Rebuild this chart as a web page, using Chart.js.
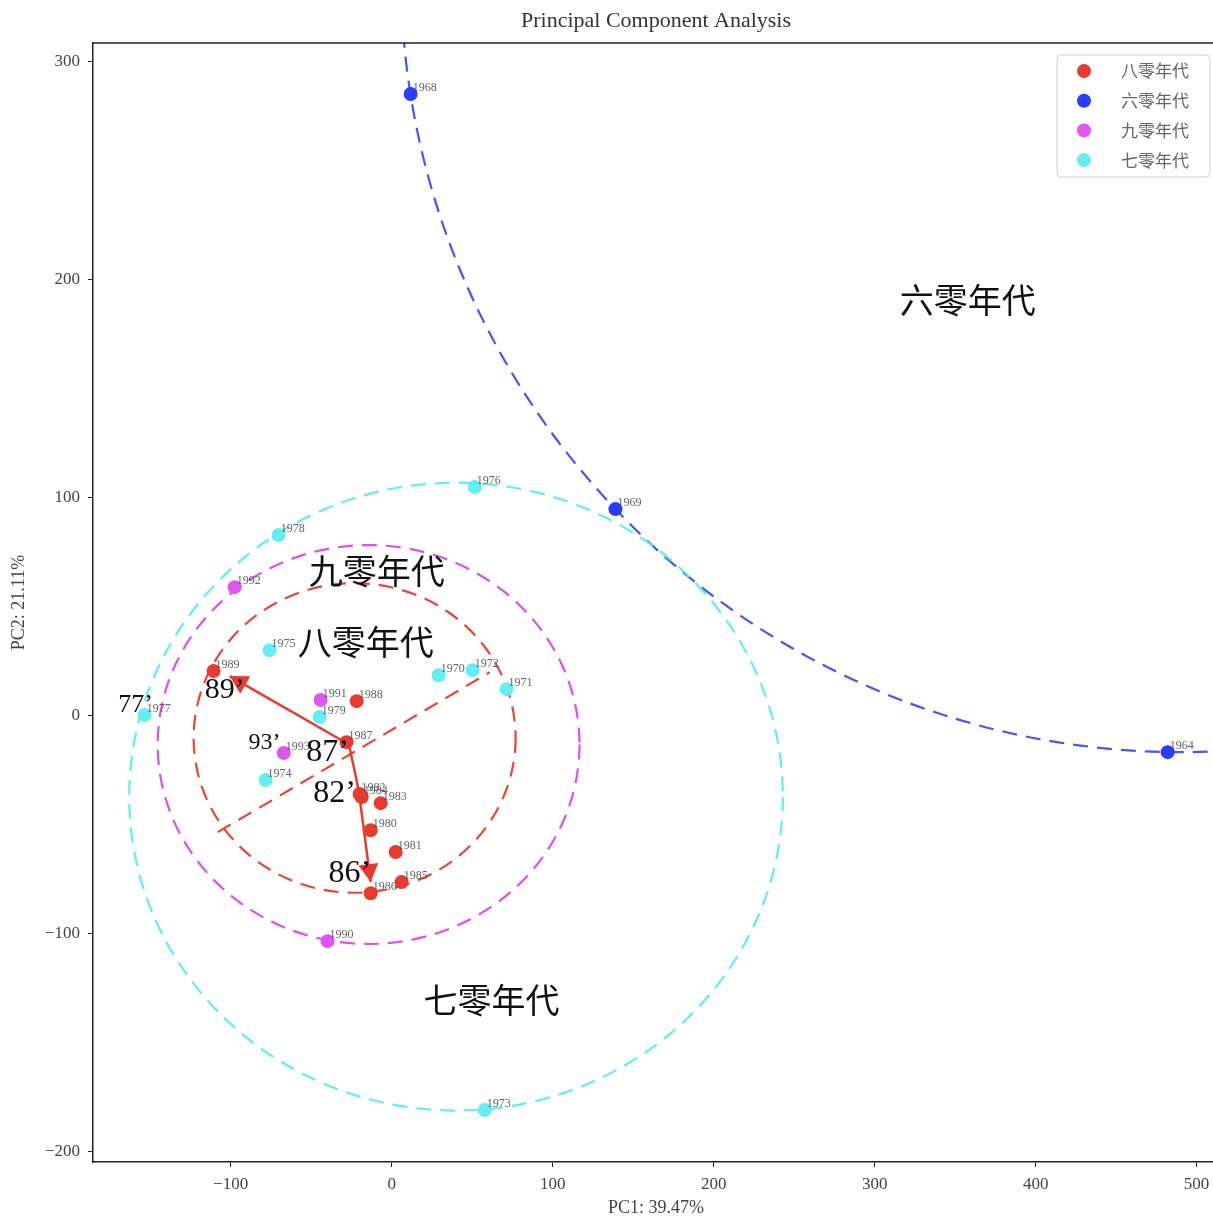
<!DOCTYPE html>
<html>
<head>
<meta charset="utf-8">
<title>Principal Component Analysis</title>
<script src="https://cdn.jsdelivr.net/npm/chart.js@4.4.0/dist/chart.umd.min.js"></script>
<style>
  html, body { margin: 0; padding: 0; background: #fff; overflow: hidden; }
  /* the original figure is cropped on the right, so the canvas runs a little past the window */
  #wrap { width: 1226px; height: 1219px; }
</style>
</head>
<body>
<div id="wrap"><canvas id="pca"></canvas></div>
<script>
// --- values ---
const groupNames = ['八零年代', '六零年代', '九零年代', '七零年代'];
const groupColors = ['#e83a2f', '#2a3dff', '#e055f0', '#62eff3'];

const years80 = [1980, 1981, 1982, 1983, 1984, 1985, 1986, 1987, 1988, 1989];
const pc1_80 = [-13, 2.5, -19.9, -6.8, -18.6, 6.2, -13, -28, -21.7, -110.6];
const pc2_80 = [-52.8, -62.8, -36.2, -40.4, -37.6, -76.6, -81.7, -12.4, 6.4, 20.2];

const years60 = [1964, 1968, 1969];
const pc1_60 = [482, 11.8, 139];
const pc2_60 = [-17, 284.9, 94.5];

const years90 = [1990, 1991, 1992, 1993];
const pc1_90 = [-39.8, -44.1, -97.5, -67];
const pc2_90 = [-103.7, 6.9, 58.7, -17.4];

const years70 = [1970, 1971, 1972, 1973, 1974, 1975, 1976, 1977, 1978, 1979];
const pc1_70 = [29.2, 71.4, 50.3, 57.8, -78.3, -75.8, 51.6, -153.4, -70.2, -44.7];
const pc2_70 = [18.3, 11.9, 20.6, -181.2, -29.8, 29.8, 104.6, 0, 82.6, -0.9];

// dashed rings around each decade (center / radii in data units)
const ringColors = ['#ee4434', '#4455ff', '#e04ef2', '#5eeff3'];
const ringCx = [-23, 490.7, -14.3, 40];
const ringCy = [-10.5, 341, -13.5, -37.4];
const ringRx = [100, 485, 131, 203];
const ringRy = [71, 358, 91.5, 144];

// red dashed diameter of the 80s ring
const diamX = [-108, 61];
const diamY = [-53.7, 19.7];

// red arrows (87 -> 89, 87 -> 82 -> 86)
const arrowX = [[-26.5, -100.6], [-26.5, -20.5, -13]];
const arrowY = [[-13.5, 17.9], [-13.5, -34.4, -76.6]];

// text annotations
const bigLabels = ['六零年代', '九零年代', '八零年代', '七零年代'];
const bigX = [357.8, -9.3, -16.1, 62.1];
const bigY = [190.4, 66, 33.5, -130.7];

const yearTags = ['89’', '77’', '93’', '87’', '82’', '86’'];
const tagX = [-103.7, -159, -78.9, -39.8, -35.4, -26];
const tagY = [11.5, 4.6, -12.8, -17, -36.2, -72.9];
const tagSize = [30, 26, 24, 32, 32, 32];

// axis ranges and ticks
const xMin = -185.5, xMax = 513.9;
const yMin = -205, yMax = 308.3;
const xTickValues = [-100, 0, 100, 200, 300, 400, 500];
const yTickValues = [-200, -100, 0, 100, 200, 300];

function pts(xs, ys) {
    return xs.map((x, i) => ({ x: x, y: ys[i] }));
}

const groupData = [
    { years: years80, data: pts(pc1_80, pc2_80) },
    { years: years60, data: pts(pc1_60, pc2_60) },
    { years: years90, data: pts(pc1_90, pc2_90) },
    { years: years70, data: pts(pc1_70, pc2_70) }
];

const datasets = [];
groupData.forEach((g, i) => {
    datasets.push({
        label: groupNames[i],
        data: g.data,
        years: g.years,
        backgroundColor: groupColors[i],
        borderWidth: 0,
        pointRadius: 7,
        pointHoverRadius: 7,
        order: 1
    });
});
datasets.push({
    label: 'diameter',
    data: pts(diamX, diamY),
    showLine: true,
    borderColor: '#ee4434',
    borderWidth: 2.2,
    borderDash: [15, 9],
    pointRadius: 0,
    order: 3
});
arrowX.forEach((xs, i) => {
    datasets.push({
        label: 'arrow',
        data: pts(xs, arrowY[i]),
        showLine: true,
        borderColor: '#e83a2f',
        borderWidth: 2.5,
        pointRadius: 0,
        arrow: true,
        order: 2
    });
});

const ringsPlugin = {
    id: 'rings',
    beforeDatasetsDraw(chart) {
        const { ctx, chartArea, scales: { x, y } } = chart;
        ctx.save();
        ctx.beginPath();
        ctx.rect(chartArea.left, chartArea.top, chartArea.right - chartArea.left, chartArea.bottom - chartArea.top);
        ctx.clip();
        ctx.lineWidth = 2.2;
        ctx.setLineDash([15, 9]);
        ringCx.forEach((cx, i) => {
            const px = x.getPixelForValue(cx);
            const py = y.getPixelForValue(ringCy[i]);
            const rx = Math.abs(x.getPixelForValue(cx + ringRx[i]) - px);
            const ry = Math.abs(y.getPixelForValue(ringCy[i] + ringRy[i]) - py);
            ctx.strokeStyle = ringColors[i];
            ctx.beginPath();
            ctx.ellipse(px, py, rx, ry, 0, 0, Math.PI * 2);
            ctx.stroke();
        });
        ctx.restore();
    }
};

const overlayPlugin = {
    id: 'overlay',
    afterDatasetsDraw(chart) {
        const { ctx, chartArea, scales: { x, y } } = chart;
        ctx.save();

        // arrow heads
        chart.data.datasets.forEach(ds => {
            if (!ds.arrow) return;
            const n = ds.data.length;
            const a = ds.data[n - 2], b = ds.data[n - 1];
            const ax = x.getPixelForValue(a.x), ay = y.getPixelForValue(a.y);
            const bx = x.getPixelForValue(b.x), by = y.getPixelForValue(b.y);
            const ang = Math.atan2(by - ay, bx - ax);
            const len = 18, half = 10;
            ctx.fillStyle = '#e83a2f';
            ctx.beginPath();
            ctx.moveTo(bx, by);
            ctx.lineTo(bx - len * Math.cos(ang) + half * Math.sin(ang), by - len * Math.sin(ang) - half * Math.cos(ang));
            ctx.lineTo(bx - len * Math.cos(ang) - half * Math.sin(ang), by - len * Math.sin(ang) + half * Math.cos(ang));
            ctx.closePath();
            ctx.fill();
        });

        // year labels next to each point
        ctx.font = '12px "Liberation Serif", serif';
        ctx.fillStyle = 'rgba(70,70,70,0.85)';
        ctx.textAlign = 'left';
        ctx.textBaseline = 'middle';
        chart.data.datasets.forEach(ds => {
            if (!ds.years) return;
            ds.data.forEach((p, i) => {
                ctx.fillText(String(ds.years[i]), x.getPixelForValue(p.x) + 2, y.getPixelForValue(p.y) - 6);
            });
        });

        // big decade names
        ctx.fillStyle = '#111';
        ctx.textAlign = 'center';
        ctx.font = '34px "Noto Sans CJK SC", sans-serif';
        bigLabels.forEach((t, i) => {
            ctx.fillText(t, x.getPixelForValue(bigX[i]), y.getPixelForValue(bigY[i]));
        });

        // short year tags
        yearTags.forEach((t, i) => {
            ctx.font = tagSize[i] + 'px "Liberation Serif", serif';
            ctx.fillText(t, x.getPixelForValue(tagX[i]), y.getPixelForValue(tagY[i]));
        });

        // frame top / right
        ctx.strokeStyle = '#222';
        ctx.lineWidth = 1.5;
        ctx.beginPath();
        ctx.moveTo(chartArea.left, chartArea.top);
        ctx.lineTo(chartArea.right, chartArea.top);
        ctx.lineTo(chartArea.right, chartArea.bottom);
        ctx.stroke();

        // legend box (top right, inside plot)
        const lx = 1057, ly = 55, lw = 153, lh = 122;
        ctx.fillStyle = 'rgba(255,255,255,0.85)';
        ctx.strokeStyle = '#d0d0d0';
        ctx.lineWidth = 1;
        ctx.beginPath();
        ctx.roundRect(lx, ly, lw, lh, 4);
        ctx.fill();
        ctx.stroke();
        ctx.textAlign = 'left';
        ctx.font = '17px "Noto Sans CJK SC", sans-serif';
        groupNames.forEach((name, i) => {
            const ry = 71 + i * 29.7;
            ctx.fillStyle = groupColors[i];
            ctx.beginPath();
            ctx.arc(1084, ry, 7, 0, Math.PI * 2);
            ctx.fill();
            ctx.fillStyle = '#666';
            ctx.fillText(name, 1121, ry);
        });

        ctx.restore();
    }
};

const minus = v => String(v).replace('-', '\u2212');

function axisTicks(values) {
    return scale => { scale.ticks = values.map(v => ({ value: v })); };
}

new Chart(document.getElementById('pca'), {
    type: 'scatter',
    data: { datasets: datasets },
    options: {
        responsive: true,
        maintainAspectRatio: false,
        animation: false,
        layout: { padding: 0 },
        plugins: {
            legend: { display: false },
            tooltip: { enabled: false },
            title: {
                display: true,
                fullSize: false,
                text: 'Principal Component Analysis',
                color: '#333',
                font: { family: 'Liberation Serif', size: 22, weight: 'normal' },
                padding: { top: 8, bottom: 8.6 }
            }
        },
        scales: {
            x: {
                type: 'linear',
                min: xMin,
                max: xMax,
                afterBuildTicks: axisTicks(xTickValues),
                ticks: {
                    color: '#444',
                    padding: 7,
                    maxRotation: 0,
                    font: { family: 'Liberation Serif', size: 17 },
                    callback: v => minus(v)
                },
                grid: { display: true, drawOnChartArea: false, drawTicks: true, tickLength: 5, color: '#222' },
                border: { display: true, color: '#222', width: 1.5 },
                title: {
                    display: true,
                    text: 'PC1: 39.47%',
                    color: '#444',
                    font: { family: 'Liberation Serif', size: 18 },
                    padding: { top: 2, bottom: 0 }
                },
                afterFit: s => { s.height = 57; }
            },
            y: {
                type: 'linear',
                min: yMin,
                max: yMax,
                afterBuildTicks: axisTicks(yTickValues),
                ticks: {
                    color: '#444',
                    padding: 8,
                    font: { family: 'Liberation Serif', size: 17 },
                    callback: v => minus(v)
                },
                grid: { display: true, drawOnChartArea: false, drawTicks: true, tickLength: 5, color: '#222' },
                border: { display: true, color: '#222', width: 1.5 },
                title: {
                    display: true,
                    text: 'PC2: 21.11%',
                    color: '#444',
                    font: { family: 'Liberation Serif', size: 18 },
                    padding: { top: 8, bottom: 0 }
                },
                afterFit: s => { s.width = 93; }
            }
        }
    },
    plugins: [ringsPlugin, overlayPlugin]
});
</script>
</body>
</html>
